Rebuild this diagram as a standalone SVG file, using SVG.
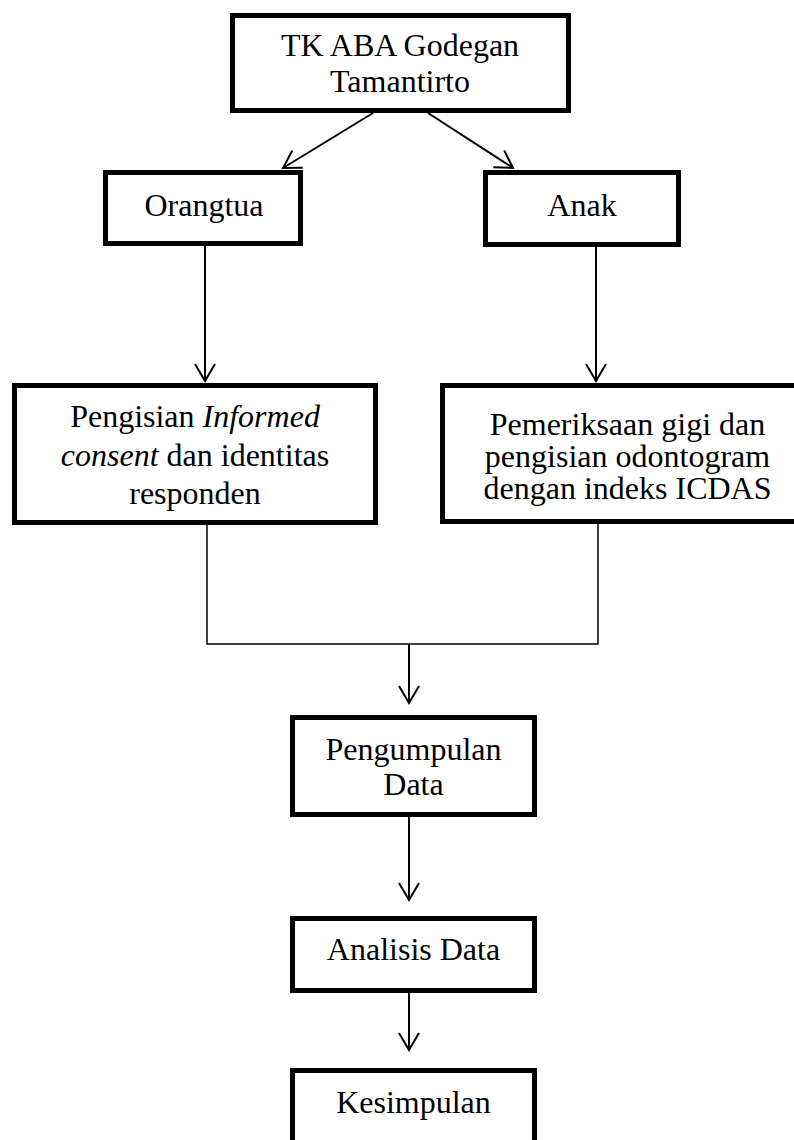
<svg xmlns="http://www.w3.org/2000/svg" width="794" height="1140" viewBox="0 0 794 1140">
<style>
.box{fill:#fff;stroke:#000;stroke-width:5}
.t{font-family:"Liberation Serif","Times New Roman",serif;font-size:32px;fill:#000;text-anchor:middle}
.c{fill:none;stroke:#000;stroke-width:2}
.thin{fill:none;stroke:#000;stroke-width:1.5}
</style>
<defs>
<marker id="arr" markerUnits="userSpaceOnUse" markerWidth="40" markerHeight="40" viewBox="-20 -20 40 40" refX="0" refY="0" orient="auto">
<path d="M-17,-10 L0,0 L-17,10" fill="none" stroke="#000" stroke-width="2"/>
</marker>
</defs>
<rect width="794" height="1140" fill="#fff"/>
<g id="connectors">
<line class="c" x1="373" y1="113" x2="283" y2="168" marker-end="url(#arr)"/>
<line class="c" x1="428" y1="113" x2="513" y2="168" marker-end="url(#arr)"/>
<line class="c" x1="205" y1="246" x2="205" y2="381" marker-end="url(#arr)"/>
<line class="c" x1="596" y1="247" x2="596" y2="381" marker-end="url(#arr)"/>
<polyline class="thin" points="207,525 207,644 598,644 598,524"/>
<line class="c" x1="409" y1="644" x2="409" y2="703" marker-end="url(#arr)"/>
<line class="c" x1="409" y1="817" x2="409" y2="900" marker-end="url(#arr)"/>
<line class="c" x1="409" y1="993" x2="409" y2="1050" marker-end="url(#arr)"/>
</g>
<g id="n-tk">
<rect class="box" x="232.5" y="15.5" width="336" height="95"/>
<text class="t" x="400" y="56">TK ABA Godegan</text>
<text class="t" x="400" y="92">Tamantirto</text>
</g>
<g id="n-orangtua">
<rect class="box" x="105.5" y="172.5" width="195" height="71"/>
<text class="t" x="204" y="216">Orangtua</text>
</g>
<g id="n-anak">
<rect class="box" x="485.5" y="172.5" width="193" height="72"/>
<text class="t" x="582" y="216">Anak</text>
</g>
<g id="n-informed">
<rect class="box" x="14.5" y="385.5" width="361" height="137"/>
<text class="t" x="195" y="427">Pengisian <tspan font-style="italic">Informed</tspan></text>
<text class="t" x="195" y="466"><tspan font-style="italic">consent</tspan> dan identitas</text>
<text class="t" x="195" y="504">responden</text>
</g>
<g id="n-pemeriksaan">
<rect class="box" x="442.5" y="385.5" width="380" height="136"/>
<text class="t" x="627.5" y="435">Pemeriksaan gigi dan</text>
<text class="t" x="627.5" y="467">pengisian odontogram</text>
<text class="t" x="627.5" y="499">dengan indeks ICDAS</text>
</g>
<g id="n-pengumpulan">
<rect class="box" x="292.5" y="717.5" width="242" height="97"/>
<text class="t" x="413.5" y="760">Pengumpulan</text>
<text class="t" x="413.5" y="795">Data</text>
</g>
<g id="n-analisis">
<rect class="box" x="292.5" y="918.5" width="242" height="72"/>
<text class="t" x="413.5" y="960">Analisis Data</text>
</g>
<g id="n-kesimpulan">
<rect class="box" x="292.5" y="1070.5" width="242" height="100"/>
<text class="t" x="413.5" y="1113">Kesimpulan</text>
</g>
</svg>
